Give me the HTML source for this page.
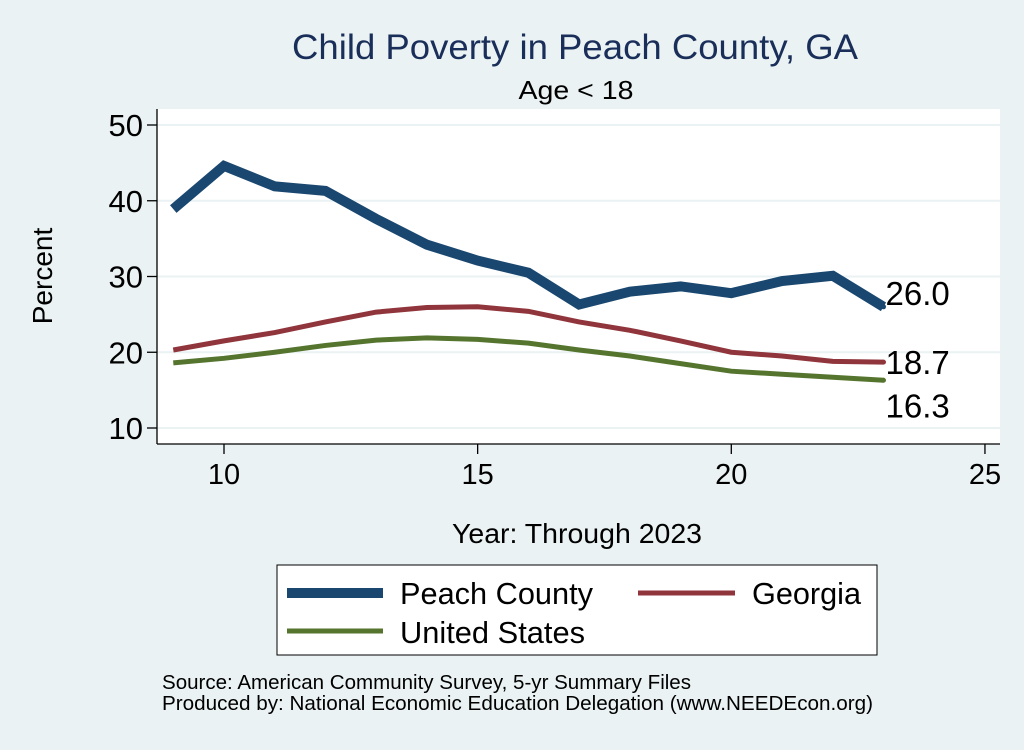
<!DOCTYPE html>
<html><head><meta charset="utf-8"><style>
body{margin:0;background:#eaf2f3;font-family:"Liberation Sans",Arial,sans-serif}
</style></head><body>
<svg width="1024" height="745" xmlns="http://www.w3.org/2000/svg" font-family="Liberation Sans, Arial, sans-serif">
<rect width="1024" height="745" fill="#eaf2f3"/>
<rect x="157" y="109" width="843" height="335" fill="#fff"/>
<text x="575" y="59" font-size="35" fill="#1a2e5a" text-anchor="middle" textLength="566" lengthAdjust="spacingAndGlyphs">Child Poverty in Peach County, GA</text>
<text x="576" y="99" font-size="26" text-anchor="middle" textLength="115" lengthAdjust="spacingAndGlyphs">Age &lt; 18</text>
<g id="grid"></g><g id="axes"></g><g id="series"></g>
<text x="52" y="276" font-size="28" text-anchor="middle" transform="rotate(-90 52 276)">Percent</text>
<text x="577" y="543" font-size="28" text-anchor="middle" textLength="250" lengthAdjust="spacingAndGlyphs">Year: Through 2023</text>
<g>
<rect x="277" y="565" width="600" height="90" fill="#fff" stroke="#000" stroke-width="1"/>
<line x1="287" y1="593" x2="383" y2="593" stroke="#1a476f" stroke-width="10"/>
<text x="400" y="604" font-size="31" textLength="193" lengthAdjust="spacingAndGlyphs">Peach County</text>
<line x1="638" y1="593" x2="735" y2="593" stroke="#90353b" stroke-width="5"/>
<text x="752" y="604" font-size="31" textLength="109" lengthAdjust="spacingAndGlyphs">Georgia</text>
<line x1="287" y1="631" x2="383" y2="631" stroke="#55752f" stroke-width="5"/>
<text x="400" y="643" font-size="31" textLength="185" lengthAdjust="spacingAndGlyphs">United States</text>
</g>
<text x="162" y="689" font-size="20" textLength="529" lengthAdjust="spacingAndGlyphs">Source: American Community Survey, 5-yr Summary Files</text>
<text x="162" y="710" font-size="20" textLength="711" lengthAdjust="spacingAndGlyphs">Produced by: National Economic Education Delegation (www.NEEDEcon.org)</text>
</svg>
<script>
const years=[9,10,11,12,13,14,15,16,17,18,19,20,21,22,23];
const peach=[38.9,44.6,41.9,41.3,37.6,34.2,32.1,30.5,26.3,28.0,28.7,27.8,29.4,30.1,26.0];
const georgia=[20.3,21.5,22.6,24.0,25.3,25.9,26.0,25.4,24.0,22.9,21.5,20.0,19.5,18.8,18.7];
const us=[18.6,19.2,20.0,20.9,21.6,21.9,21.7,21.2,20.3,19.5,18.5,17.5,17.1,16.7,16.3];
const yTicks=[10,20,30,40,50];
const xTicks=[10,15,20,25];
const NS="http://www.w3.org/2000/svg";
const X=v=>224+(v-10)*50.73;
const Y=v=>428-(v-10)*7.575;
function mk(t,a,p){const e=document.createElementNS(NS,t);for(const k in a)e.setAttribute(k,a[k]);p.appendChild(e);return e;}
const g=document.getElementById('grid'),ax=document.getElementById('axes'),s=document.getElementById('series');
yTicks.forEach(v=>{
 const l=mk('line',{x1:157,x2:1000,y1:Y(v),y2:Y(v),stroke:'#eaf2f3','stroke-width':2},g);
 
 
 const t=mk('line',{x1:147,x2:157,y1:Y(v),y2:Y(v),stroke:'#000','stroke-width':1.3},ax);
 
 
 const tx=mk('text',{x:143,y:Y(v)+11,'font-size':31,'text-anchor':'end'},ax);
 tx.textContent=v;
 
 
});
xTicks.forEach(v=>{
 const t=mk('line',{x1:X(v),x2:X(v),y1:444,y2:454,stroke:'#000','stroke-width':1.3},ax);
 
 
 const tx=mk('text',{x:X(v),y:484,'font-size':29,'text-anchor':'middle'},ax);
 tx.textContent=v;
 
 
});
const a1=mk('line',{x1:157,x2:157,y1:109,y2:444,stroke:'#000','stroke-width':1.3},ax);


const a2=mk('line',{x1:157,x2:1000,y1:444,y2:444,stroke:'#000','stroke-width':1.3},ax);


function line(vals,color,w,name,dy){
 const p=mk('polyline',{points:vals.map((v,i)=>X(years[i])+','+Y(v)).join(' '),fill:'none',stroke:color,'stroke-width':w,'stroke-linejoin':'miter'},s);
 
 
 const last=vals[vals.length-1];
 const d=mk('circle',{cx:X(years[years.length-1]),cy:Y(last),r:2.5,fill:color},s);
 
 
 const t=mk('text',{x:X(years[years.length-1])+2,y:Y(last)+dy,'font-size':33},s);
 t.textContent=last.toFixed(1);
 
 
}
line(us,'#55752f',5,'us',37);
line(georgia,'#90353b',5,'georgia',12);
line(peach,'#1a476f',10,'peach',-2);
</script>
</body></html>
